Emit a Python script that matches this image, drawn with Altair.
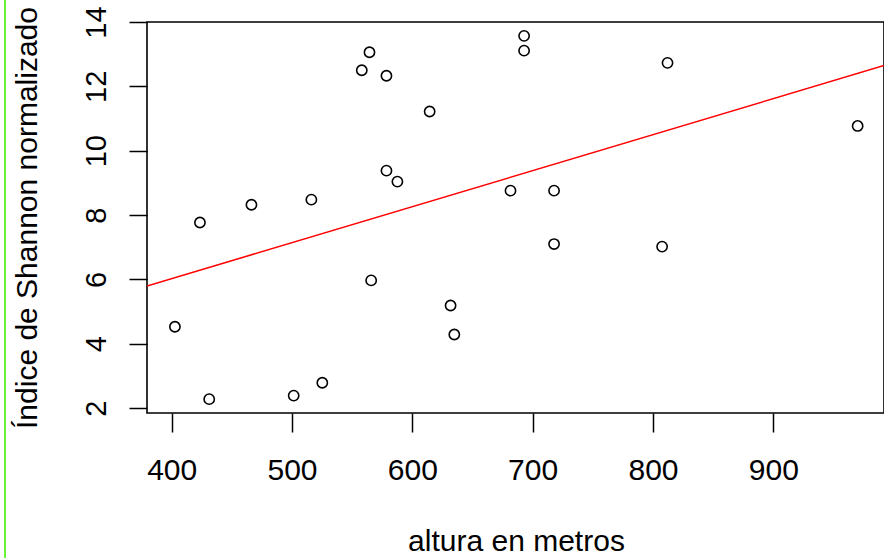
import altair as alt
import pandas as pd

# Altitude (m) and normalised Shannon index for each sampling site
altura = [402.7, 423.5, 466.3, 431.2, 501.4, 516.1, 558.0, 564.4, 578.5, 614.4,
          692.9, 692.9, 578.5, 587.6, 681.6, 717.8, 717.8, 812.1, 970.1, 807.6,
          565.8, 631.8, 634.9, 525.2]
shannon = [4.53, 7.77, 8.32, 2.28, 2.39, 8.48, 12.50, 13.06, 12.33, 11.22,
           13.57, 13.11, 9.38, 9.04, 8.76, 8.76, 7.10, 12.73, 10.77, 7.02,
           5.97, 5.19, 4.29, 2.79]

x_ticks = [400, 500, 600, 700, 800, 900]
y_ticks = [2, 4, 6, 8, 10, 12, 14]
x_range = [379.5, 992.0]
y_range = [1.85, 14.0]

df = pd.DataFrame({"altura": altura, "shannon": shannon})

W, H = 737, 391
FONT = "Liberation Sans"

x_enc = alt.X(
    "altura:Q",
    scale=alt.Scale(domain=x_range, nice=False, zero=False),
    axis=alt.Axis(
        values=x_ticks, grid=False, domain=False,
        tickSize=19, tickWidth=1.5, tickColor="black",
        labelFont=FONT, labelFontSize=30, labelColor="black",
        labelPadding=47, labelBaseline="alphabetic", labelOverlap=False,
        title="altura en metros", titleFont=FONT, titleFontSize=30,
        titleFontWeight="normal", titleColor="black",
        titleAlign="center", titleBaseline="alphabetic",
        titleX=369, titleY=137,
    ),
)
y_enc = alt.Y(
    "shannon:Q",
    scale=alt.Scale(domain=y_range, nice=False, zero=False),
    axis=alt.Axis(
        values=y_ticks, grid=False, domain=False,
        tickSize=18, tickWidth=1.5, tickColor="black",
        labelFont=FONT, labelFontSize=29, labelColor="black",
        labelAngle=270, labelAlign="center", labelBaseline="alphabetic",
        labelPadding=24, labelOverlap=False,
        title="Índice de Shannon normalizado", titleFont=FONT, titleFontSize=30,
        titleFontWeight="normal", titleColor="black",
        titleAngle=270, titleAlign="center", titleBaseline="alphabetic",
        titleX=-111, titleY=H / 2,
    ),
)

points = alt.Chart(df).mark_point(
    shape="circle", filled=False, size=105, strokeWidth=1.6,
    color="black", opacity=1,
).encode(x=x_enc, y=y_enc)

fit = alt.Chart(df).transform_regression(
    "altura", "shannon", extent=x_range
).mark_line(color="#ff0000", strokeWidth=1.5, clip=True).encode(
    x="altura:Q", y="shannon:Q"
)

# thin green border line down the left side
edge = alt.Chart(df).mark_rule(color="#6cf03a", strokeWidth=2).encode(
    x=alt.value(-142), y=alt.value(-22), y2=alt.value(540)
)

chart = alt.layer(points, fit, edge).properties(
    width=W, height=H,
    autosize=alt.AutoSizeParams(type="none"),
    padding={"left": 147, "top": 22, "right": 0, "bottom": 145},
    background="white",
).configure_view(stroke="black", strokeWidth=1.6)

chart.save("out.html", embed_options={"renderer": "svg", "actions": False})
